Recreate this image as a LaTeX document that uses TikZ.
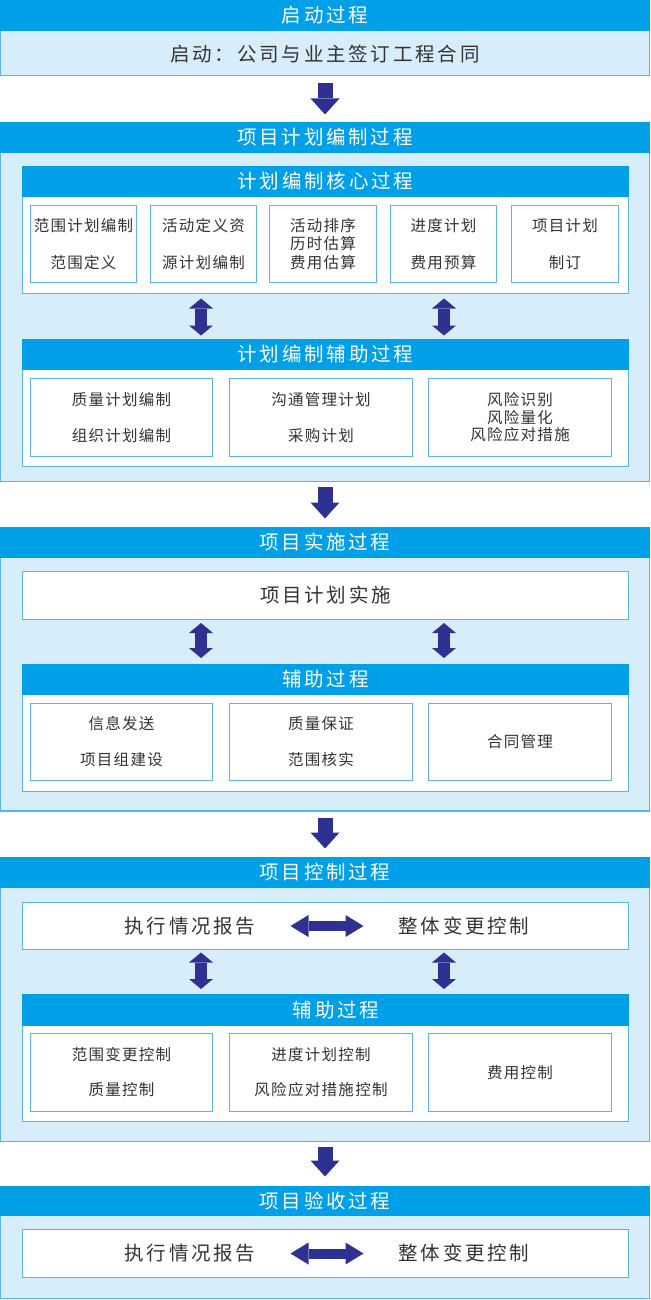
\documentclass[tikz,border=0pt]{standalone}
\usepackage{fontspec}
\setmainfont{Noto Sans CJK SC}
\usetikzlibrary{arrows.meta}
\definecolor{hdrc}{RGB}{0,160,233}
\definecolor{bodyc}{RGB}{216,237,250}
\definecolor{brd}{RGB}{90,180,232}
\definecolor{arrc}{RGB}{46,49,146}
\definecolor{txtc}{RGB}{51,51,51}
\ExplSyntaxOn
\cs_new_protected:Npn \my_trk:nn #1#2 { \tl_map_inline:nn {#2} { ##1 \kern #1 } \unkern }
\NewDocumentCommand\trk{mm}{\my_trk:nn{#1}{#2}}
\ExplSyntaxOff
\newcommand\smt[1]{\trk{1.3pt}{#1}}
\newcommand\bgt[1]{\trk{2.8pt}{#1}}
\tikzset{
  sect/.style={draw=brd, line width=1.3pt, fill=bodyc, anchor=north west, inner sep=0pt, outer sep=0pt},
  hdr/.style={fill=hdrc, anchor=north west, inner sep=0pt, outer sep=0pt, text=white, font=\fontsize{19.5}{22}\selectfont},
  inbox/.style={draw=brd, line width=1.1pt, fill=white, anchor=north west, inner sep=0pt, outer sep=0pt, text=txtc, font=\fontsize{19.5}{22}\selectfont},
  sub/.style={draw=brd, line width=1.1pt, fill=white, anchor=north west, inner sep=0pt, outer sep=0pt, text=txtc, font=\fontsize{15.5}{18.5}\selectfont, align=center},
  bigtxt/.style={text=txtc, font=\fontsize{19.5}{22}\selectfont, inner sep=0pt, outer sep=0pt},
  hdrtxt/.style={text=white, font=\fontsize{19.5}{22}\selectfont, inner sep=0pt, outer sep=0pt},
  downarr/.style={draw=arrc, line width=15pt, -{Triangle[width=29pt,length=16pt,line width=0pt]}},
  vdarr/.style={draw=arrc, line width=12pt, {Triangle[width=24pt,length=10pt,line width=0pt]}-{Triangle[width=24pt,length=10pt,line width=0pt]}},
  hdarr/.style={draw=arrc, line width=10pt, {Triangle[width=22pt,length=18pt,line width=0pt]}-{Triangle[width=22pt,length=18pt,line width=0pt]}},
}
\begin{document}
\begin{tikzpicture}[x=1pt,y=-1pt]
\useasboundingbox (0,0) rectangle (650,1300);
% ---------- Section 1
\node[sect, minimum width=648.5pt, minimum height=75pt] (s1) at (0.75,0.75) {};
\node[hdr, minimum width=650pt, minimum height=31pt] (h1) at (0,0) {\bgt{启动过程}};
\node[bigtxt] (t1) at (325,54) {\bgt{启动：公司与业主签订工程合同}};
% ---------- Section 2
\node[sect, minimum width=648.5pt, minimum height=359pt] (s2) at (0.75,122.5) {};
\node[hdr, minimum width=650pt, minimum height=31pt] (h2) at (0,122) {\bgt{项目计划编制过程}};
\node[inbox, minimum width=606pt, minimum height=127pt] (core) at (22.5,166.5) {};
\node[hdr, minimum width=607pt, minimum height=31pt] (coreh) at (22,166) {\bgt{计划编制核心过程}};
\node[sub, minimum width=106pt, minimum height=77pt] (c1) at (30.5,205.5) {\smt{范围计划编制}\\[18.5pt]\smt{范围定义}};
\node[sub, minimum width=106pt, minimum height=77pt] (c2) at (150.5,205.5) {\smt{活动定义资}\\[18.5pt]\smt{源计划编制}};
\node[sub, minimum width=107pt, minimum height=77pt] (c3) at (269.5,205.5) {\smt{活动排序}\\\smt{历时估算}\\\smt{费用估算}};
\node[sub, minimum width=106pt, minimum height=77pt] (c4) at (390.5,205.5) {\smt{进度计划}\\[18.5pt]\smt{费用预算}};
\node[sub, minimum width=107pt, minimum height=77pt] (c5) at (511.5,205.5) {\smt{项目计划}\\[18.5pt]\smt{制订}};
\node[inbox, minimum width=606pt, minimum height=127pt] (aux2) at (22.5,339.5) {};
\node[hdr, minimum width=607pt, minimum height=31pt] (aux2h) at (22,339) {\bgt{计划编制辅助过程}};
\node[sub, minimum width=182pt, minimum height=78pt] (a1) at (30.5,378.5) {\smt{质量计划编制}\\[17.5pt]\smt{组织计划编制}};
\node[sub, minimum width=183pt, minimum height=78pt] (a2) at (229.5,378.5) {\smt{沟通管理计划}\\[17.5pt]\smt{采购计划}};
\node[sub, minimum width=183pt, minimum height=78pt] (a3) at (428.5,378.5) {\smt{风险识别}\\[-1pt]\smt{风险量化}\\[-1pt]\smt{风险应对措施}};
\draw[vdarr, shorten <=5pt, shorten >=4pt] ([xshift=178.5pt]core.south west) -- ([xshift=178.5pt]aux2.north west);
\draw[vdarr, shorten <=5pt, shorten >=4pt] ([xshift=421.5pt]core.south west) -- ([xshift=421.5pt]aux2.north west);
% ---------- Section 3
\node[sect, minimum width=648.5pt, minimum height=283.5pt] (s3) at (0.75,527.5) {};
\node[hdr, minimum width=650pt, minimum height=31pt] (h3) at (0,527) {\bgt{项目实施过程}};
\node[inbox, minimum width=606pt, minimum height=48pt] (impl) at (22.5,571.5) {\bgt{项目计划实施}};
\node[inbox, minimum width=606pt, minimum height=127pt] (aux3) at (22.5,664.5) {};
\node[hdr, minimum width=607pt, minimum height=31pt] (aux3h) at (22,664) {\bgt{辅助过程}};
\node[sub, minimum width=182pt, minimum height=77pt] (b1) at (30.5,703.5) {\smt{信息发送}\\[17.5pt]\smt{项目组建设}};
\node[sub, minimum width=183pt, minimum height=77pt] (b2) at (229.5,703.5) {\smt{质量保证}\\[17.5pt]\smt{范围核实}};
\node[sub, minimum width=183pt, minimum height=77pt] (b3) at (428.5,703.5) {\smt{合同管理}};
\draw[vdarr, shorten <=3.5pt, shorten >=6.5pt] ([xshift=178.5pt]impl.south west) -- ([xshift=178.5pt]aux3.north west);
\draw[vdarr, shorten <=3.5pt, shorten >=6.5pt] ([xshift=421.5pt]impl.south west) -- ([xshift=421.5pt]aux3.north west);
% ---------- Section 4
\node[sect, minimum width=648.5pt, minimum height=284pt] (s4) at (0.75,857.5) {};
\node[hdr, minimum width=650pt, minimum height=31pt] (h4) at (0,857) {\bgt{项目控制过程}};
\node[inbox, minimum width=606pt, minimum height=47pt] (exec4) at (22.5,902.5) {};
\node[bigtxt] (l4) at (190,926) {\bgt{执行情况报告}};
\node[bigtxt] (r4) at (464,926) {\bgt{整体变更控制}};
\draw[hdarr, shorten <=35pt, shorten >=35pt] (l4.east) -- (r4.west);
\node[inbox, minimum width=606pt, minimum height=127pt] (aux4) at (22.5,994.5) {};
\node[hdr, minimum width=607pt, minimum height=32pt] (aux4h) at (22,994) {};
\node[hdrtxt] (aux4t) at (336,1010) {\bgt{辅助过程}};
\node[sub, minimum width=182pt, minimum height=78pt] (d1) at (30.5,1033.5) {\smt{范围变更控制}\\[16.5pt]\smt{质量控制}};
\node[sub, minimum width=183pt, minimum height=78pt] (d2) at (229.5,1033.5) {\smt{进度计划控制}\\[16.5pt]\smt{风险应对措施控制}};
\node[sub, minimum width=183pt, minimum height=78pt] (d3) at (428.5,1033.5) {\smt{费用控制}};
\draw[vdarr, shorten <=3pt, shorten >=5.5pt] ([xshift=178.5pt]exec4.south west) -- ([xshift=178.5pt]aux4.north west);
\draw[vdarr, shorten <=3pt, shorten >=5.5pt] ([xshift=421.5pt]exec4.south west) -- ([xshift=421.5pt]aux4.north west);
% ---------- Section 5
\node[sect, minimum width=648.5pt, minimum height=112pt] (s5) at (0.75,1186.5) {};
\node[hdr, minimum width=650pt, minimum height=30pt] (h5) at (0,1186) {\bgt{项目验收过程}};
\node[inbox, minimum width=606pt, minimum height=48pt] (acc) at (22.5,1229.5) {};
\node[bigtxt] (l5) at (190,1253.5) {\bgt{执行情况报告}};
\node[bigtxt] (r5) at (464,1253.5) {\bgt{整体变更控制}};
\draw[hdarr, shorten <=35pt, shorten >=35pt] (l5.east) -- (r5.west);
% ---------- Arrows between sections
\draw[downarr, shorten <=7pt, shorten >=7.5pt] (s1.south) -- (h2.north);
\draw[downarr, shorten <=5.5pt, shorten >=8.5pt] (s2.south) -- (h3.north);
\draw[downarr, shorten <=7pt, shorten >=8.5pt] (s3.south) -- (h4.north);
\draw[downarr, shorten <=5.5pt, shorten >=9.5pt] (s4.south) -- (h5.north);
\end{tikzpicture}
\end{document}
